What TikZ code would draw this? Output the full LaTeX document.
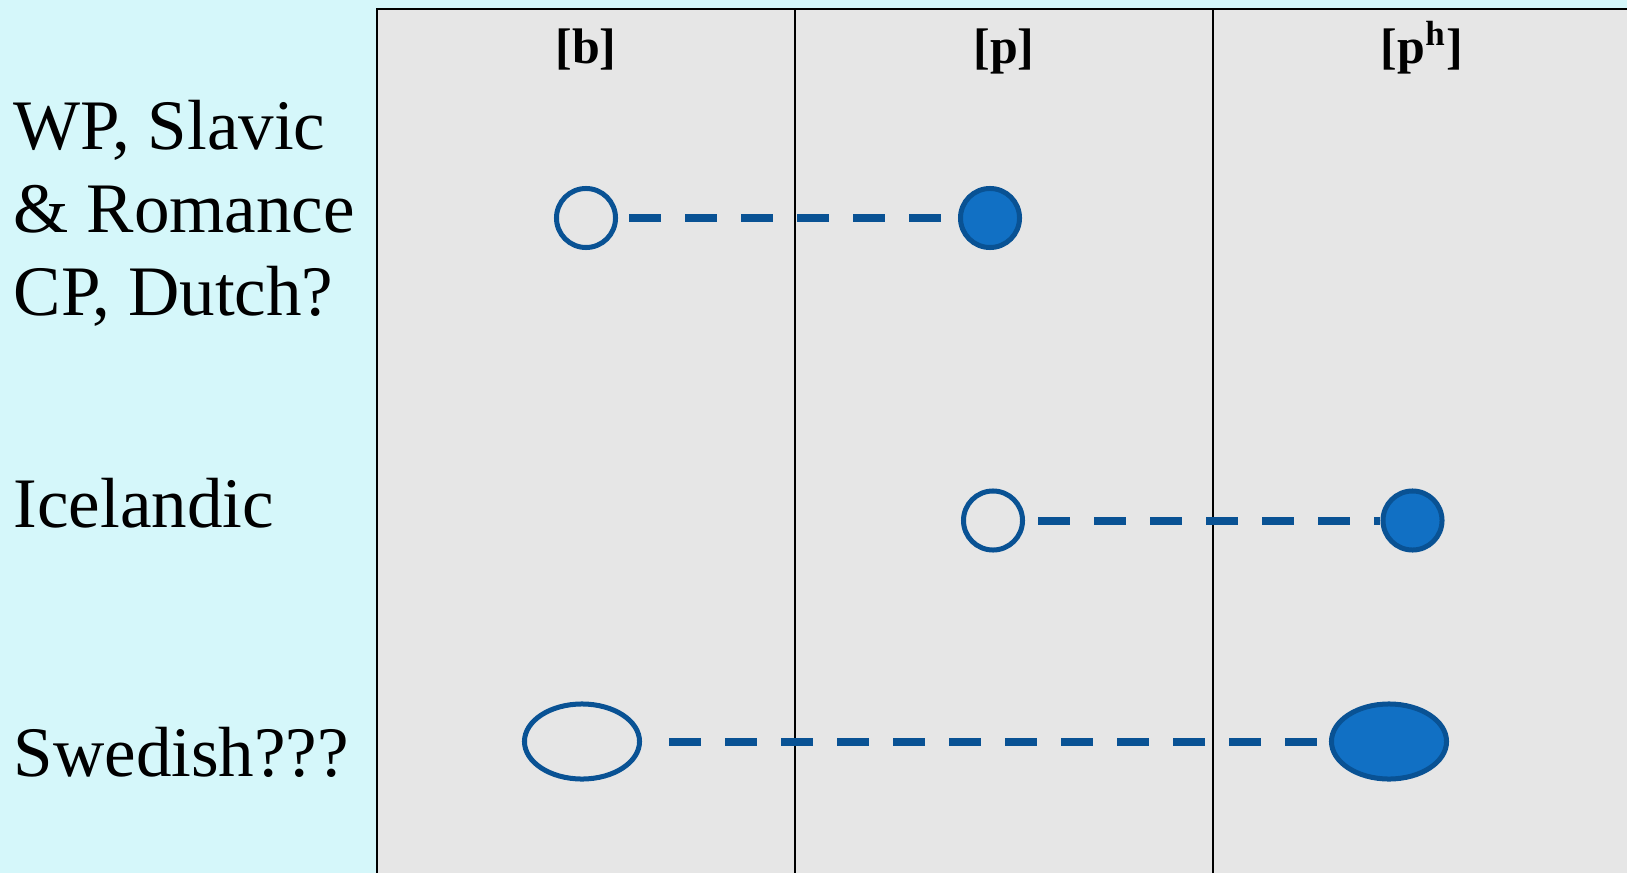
\documentclass[tikz,border=0pt]{standalone}
\usepackage{fontspec}
\setmainfont{Liberation Serif}
\usetikzlibrary{shapes.geometric}
\definecolor{bgcyan}{RGB}{213,247,250}
\definecolor{panelgray}{RGB}{230,230,230}
\definecolor{dotline}{RGB}{9,82,148}
\definecolor{dotfill}{RGB}{17,112,196}
\begin{document}
\begin{tikzpicture}[x=0.01cm,y=-0.01cm,
  hdr/.style={anchor=base, inner sep=0pt, font=\bfseries\fontsize{14.2}{17}\selectfont},
  lang/.style={anchor=base west, inner sep=0pt, font=\fontsize{20.2}{23.6}\selectfont},
  opendot/.style={circle, draw=dotline, line width=0.05cm, minimum size=0.59cm, inner sep=0pt},
  fulldot/.style={opendot, fill=dotfill},
  openoval/.style={ellipse, draw=dotline, line width=0.05cm, minimum width=1.15cm, minimum height=0.75cm, inner sep=0pt},
  fulloval/.style={openoval, fill=dotfill},
  link/.style={draw=dotline, line width=0.08cm, dash pattern=on 0.32cm off 0.24cm},
  rule/.style={draw=black, line width=0.02cm}
]
\useasboundingbox (0,0) rectangle (1627,873);
\fill[bgcyan] (0,0) rectangle (1627,873);
\fill[panelgray] (377,9) rectangle (1640,880);
\draw[rule] (1640,9) -- (377,9) -- (377,880);
\draw[rule] (795,9) -- (795,880);
\draw[rule] (1213,9) -- (1213,880);

\node[hdr] (hb) at (586,64) {[b]};
\node[hdr] (hp) at (1004,64) {[p]};
\node[hdr] (hph) at (1422,64) {[p\textsuperscript{h}]};

\node[lang] (l1) at (13,150) {\begin{tabular}[t]{@{}l@{}}WP, Slavic\\\& Romance\\CP, Dutch?\end{tabular}};
\node[lang] (l2) at (13,527) {Icelandic};
\node[lang] (l3) at (13,776) {Swedish???};

\node[opendot] (b1) at (586,218) {};
\node[fulldot] (p1) at (990,218) {};
\draw[link, shorten <=0.11cm] (b1) -- (p1);

\node[opendot] (p2) at (993,520.5) {};
\node[fulldot] (ph2) at (1412.5,520.5) {};
\draw[link, shorten <=0.13cm] (p2) -- (ph2);

\node[openoval] (b3) at (582,741.5) {};
\node[fulloval] (ph3) at (1389,741.5) {};
\draw[link, shorten <=0.27cm] (b3) -- (ph3);
\end{tikzpicture}
\end{document}
